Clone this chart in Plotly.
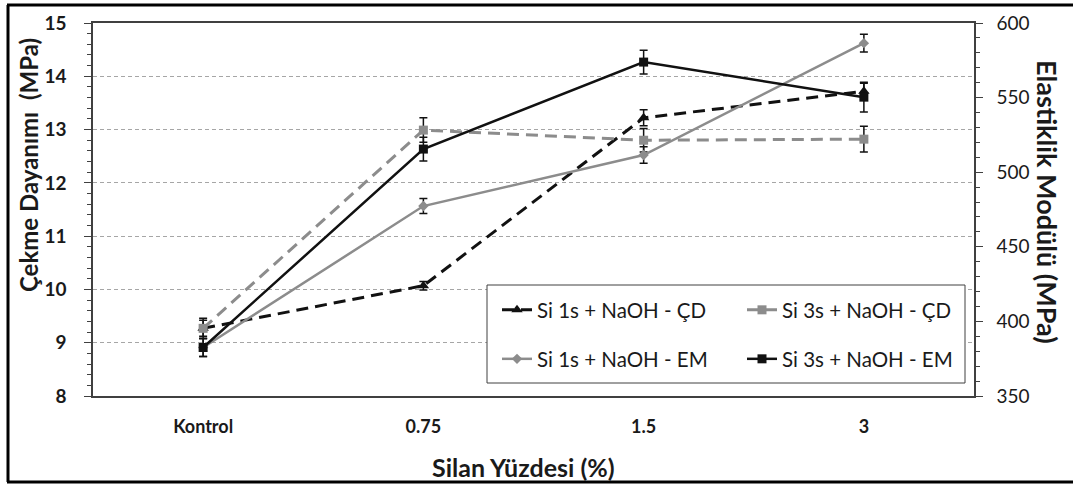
import plotly.graph_objects as go

# Silane percentage categories
categories = ["Kontrol", "0.75", "1.5", "3"]

# Tensile strength (Çekme Dayanımı, MPa) - left axis
cd_si1 = [9.27, 10.07, 13.22, 13.72]
cd_si1_err = [0.15, 0.08, 0.15, 0.15]
cd_si3 = [9.27, 12.99, 12.80, 12.82]
cd_si3_err = [0.19, 0.23, 0.22, 0.24]

# Elastic modulus (Elastiklik Modülü, MPa) - right axis
em_si1 = [382.5, 477.3, 511.5, 586.5]
em_si1_err = [6, 5, 5.5, 6]
em_si3 = [382.5, 515.5, 573.8, 550.3]
em_si3_err = [6, 8, 8, 10]

names = ["Si 1s + NaOH - ÇD", "Si 3s + NaOH - ÇD",
         "Si 1s + NaOH - EM", "Si 3s + NaOH - EM"]

BLACK = "#111111"
GREY = "#8c8c8c"
AXIS = "#404040"
TEXT = "#1a1a1a"
FONT = "Lato"

W, H = 1073, 484
L, R, T, B = 93, 99, 23, 88
PW, PH = W - L - R, H - T - B


def px_x(x):
    return (x - L) / PW


def px_y(y):
    return (H - B - y) / PH


def err(arr):
    return dict(type="data", array=arr, color=BLACK, thickness=1.5, width=4)


fig = go.Figure()
fig.add_trace(go.Scatter(
    x=categories, y=cd_si1, name=names[0], yaxis="y", legend="legend",
    mode="lines+markers", line=dict(color=BLACK, width=3, dash="12px,7px"),
    marker=dict(symbol="triangle-up", size=10, color=BLACK),
    error_y=err(cd_si1_err)))
fig.add_trace(go.Scatter(
    x=categories, y=cd_si3, name=names[1], yaxis="y", legend="legend",
    mode="lines+markers", line=dict(color=GREY, width=3, dash="12px,7px"),
    marker=dict(symbol="square", size=9, color=GREY),
    error_y=err(cd_si3_err)))
fig.add_trace(go.Scatter(
    x=categories, y=em_si1, name=names[2], yaxis="y2", legend="legend2",
    mode="lines+markers", line=dict(color=GREY, width=2.5),
    marker=dict(symbol="diamond", size=8, color=GREY),
    error_y=err(em_si1_err)))
fig.add_trace(go.Scatter(
    x=categories, y=em_si3, name=names[3], yaxis="y2", legend="legend2",
    mode="lines+markers", line=dict(color=BLACK, width=2.5),
    marker=dict(symbol="square", size=9, color=BLACK),
    error_y=err(em_si3_err)))

legend_common = dict(
    orientation="h", xanchor="left", yanchor="middle",
    bgcolor="rgba(0,0,0,0)", borderwidth=0,
    font=dict(family=FONT, size=20.5, color=TEXT),
    entrywidth=200, entrywidthmode="pixels", itemwidth=30,
)

shapes = [
    # legend box
    dict(type="rect", xref="paper", yref="paper", layer="above",
         x0=px_x(487), x1=px_x(965), y0=px_y(383), y1=px_y(285),
         line=dict(color=AXIS, width=1), fillcolor="white"),
    # outer frame
    dict(type="line", xref="paper", yref="paper",
         x0=px_x(7), x1=px_x(1080), y0=px_y(5), y1=px_y(5),
         line=dict(color="black", width=3)),
    dict(type="line", xref="paper", yref="paper",
         x0=px_x(7), x1=px_x(1080), y0=px_y(482), y1=px_y(482),
         line=dict(color="black", width=3)),
    dict(type="line", xref="paper", yref="paper",
         x0=px_x(8), x1=px_x(8), y0=px_y(5), y1=px_y(482),
         line=dict(color="black", width=3)),
]

annotations = [
    dict(text="Çekme Dayanımı\u00a0 (MPa)", xref="paper", yref="paper",
         x=px_x(28), y=px_y(165), xanchor="center", yanchor="middle",
         textangle=-90, showarrow=False,
         font=dict(family=FONT, size=24, color=TEXT, weight="bold")),
    dict(text="Elastiklik Modülü (MPa)", xref="paper", yref="paper",
         x=px_x(1048), y=px_y(202), xanchor="center", yanchor="middle",
         textangle=90, showarrow=False,
         font=dict(family=FONT, size=27, color=TEXT, weight="bold")),
    dict(text="Silan Yüzdesi (%)", xref="paper", yref="paper",
         x=px_x(523), y=px_y(467), xanchor="center", yanchor="middle",
         showarrow=False,
         font=dict(family=FONT, size=25, color=TEXT, weight="bold")),
]

fig.update_layout(
    width=W, height=H,
    margin=dict(l=L, r=R, t=T, b=B),
    paper_bgcolor="white", plot_bgcolor="white",
    showlegend=True,
    legend=dict(x=px_x(497), y=px_y(310), **legend_common),
    legend2=dict(x=px_x(497), y=px_y(359), **legend_common),
    xaxis=dict(
        type="category", range=[-0.5, 3.5],
        showline=True, linecolor=AXIS, linewidth=1.5, mirror=True,
        ticks="", showgrid=False, zeroline=False, ticklabelstandoff=14,
        tickfont=dict(family=FONT, size=18, color=TEXT, weight="bold"),
    ),
    yaxis=dict(
        range=[8, 15], dtick=1, tick0=8,
        showline=True, linecolor=AXIS, linewidth=1.5,
        ticks="outside", ticklen=7, tickcolor=AXIS, tickwidth=1,
        minor=dict(dtick=0.2, ticks="outside", ticklen=4, tickcolor=AXIS,
                   showgrid=False),
        showgrid=True, gridcolor="#a6a6a6", gridwidth=1, griddash="4px,3px",
        zeroline=False, ticklabelstandoff=14,
        tickfont=dict(family=FONT, size=19, color=TEXT, weight="bold"),
    ),
    yaxis2=dict(
        range=[350, 600], dtick=50, tick0=350,
        overlaying="y", side="right",
        showline=True, linecolor=AXIS, linewidth=1.5,
        ticks="outside", ticklen=7, tickcolor=AXIS, tickwidth=1,
        minor=dict(dtick=10, ticks="outside", ticklen=4, tickcolor=AXIS,
                   showgrid=False),
        showgrid=False, zeroline=False, ticklabelstandoff=10,
        tickfont=dict(family=FONT, size=19, color=TEXT),
    ),
    shapes=shapes,
    annotations=annotations,
)

fig.write_html("out.html")
